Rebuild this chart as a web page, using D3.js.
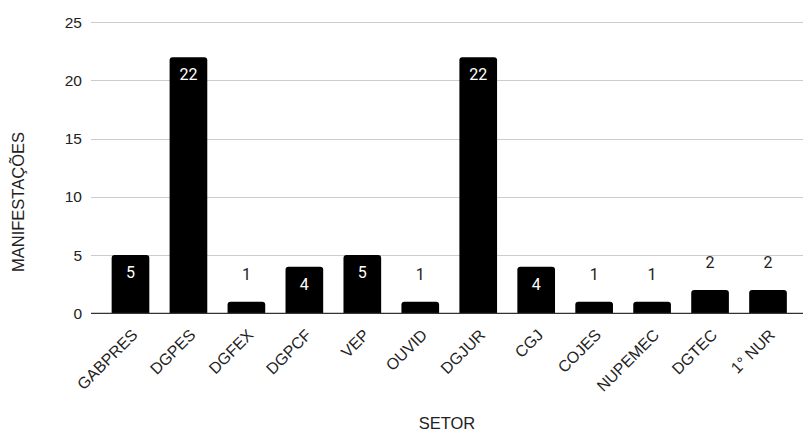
<!DOCTYPE html>
<html>
<head>
<meta charset="utf-8">
<script src="https://cdn.jsdelivr.net/npm/d3@7"></script>
<style>
  html, body { margin: 0; padding: 0; background: #fff; }
  svg { display: block; }
</style>
</head>
<body>
<svg id="chart" width="803" height="430"></svg>
<script>
// Manifestações por setor
const categories = ["GABPRES", "DGPES", "DGFEX", "DGPCF", "VEP", "OUVID", "DGJUR", "CGJ", "COJES", "NUPEMEC", "DGTEC", "1° NUR"];
const values = [5, 22, 1, 4, 5, 1, 22, 4, 1, 1, 2, 2];
const yTicks = [0, 5, 10, 15, 20, 25];
const xTitle = "SETOR";
const yTitle = "MANIFESTAÇÕES";

const svg = d3.select("#chart");
const plot = { left: 91, right: 803, top: 22.3, bottom: 313.3 };
const axisFont = "'Liberation Sans', Arial, sans-serif";
const labelFont = "Roboto, 'Liberation Sans', Arial, sans-serif";

const x = d3.scaleBand()
  .domain(categories)
  .range([101.5, 797])
  .paddingInner(0.35)
  .paddingOuter(0.175);

const y = d3.scaleLinear()
  .domain([0, 25])
  .range([plot.bottom, plot.top]);

// gridlines
svg.append("g")
  .selectAll("line")
  .data(yTicks.filter(t => t !== 0))
  .join("line")
  .attr("x1", plot.left).attr("x2", plot.right)
  .attr("y1", d => Math.round(y(d)) + 0.5).attr("y2", d => Math.round(y(d)) + 0.5)
  .attr("stroke", "#cccccc").attr("stroke-width", 1);

// y tick labels
const yAxis = d3.axisLeft(y).tickValues(yTicks).tickSize(0).tickPadding(0);
const yg = svg.append("g").attr("transform", `translate(82,0)`).call(yAxis);
yg.select(".domain").remove();
yg.selectAll("text")
  .attr("font-family", axisFont).attr("font-size", 15.5).attr("fill", "#222");

// bars with rounded tops
const r = 3;
function barPath(x0, w, yTop, yBot) {
  const rr = Math.min(r, (yBot - yTop));
  return `M${x0},${yBot} V${yTop + rr} Q${x0},${yTop} ${x0 + rr},${yTop} H${x0 + w - rr} Q${x0 + w},${yTop} ${x0 + w},${yTop + rr} V${yBot} Z`;
}
const rows = categories.map((c, i) => ({ c, v: values[i] }));
svg.append("g")
  .selectAll("path")
  .data(rows)
  .join("path")
  .attr("d", d => barPath(x(d.c), x.bandwidth(), y(d.v), y(0)))
  .attr("fill", "#000");

// value labels: inside (white) when the bar is tall enough, above otherwise
const inside = d => (y(0) - y(d.v)) > 30;
svg.append("g")
  .selectAll("text")
  .data(rows)
  .join("text")
  .attr("x", d => x(d.c) + x.bandwidth() / 2)
  .attr("y", d => inside(d) ? y(d.v) + 23 : y(d.v) - 22)
  .attr("text-anchor", "middle")
  .attr("font-family", labelFont).attr("font-size", 16)
  .attr("fill", d => inside(d) ? "#fff" : "#222")
  .text(d => d.v);

// baseline
svg.append("line")
  .attr("x1", plot.left).attr("x2", plot.right)
  .attr("y1", y(0)).attr("y2", y(0))
  .attr("stroke", "#333").attr("stroke-width", 1.2);

// x tick labels (rotated)
svg.append("g")
  .selectAll("text")
  .data(categories)
  .join("text")
  .attr("transform", d => `translate(${x(d) + x.bandwidth() / 2 + 8},336) rotate(-45)`)
  .attr("text-anchor", "end")
  .attr("font-family", axisFont).attr("font-size", 16).attr("fill", "#222")
  .text(d => d);

// axis titles
svg.append("text")
  .attr("x", (plot.left + plot.right) / 2).attr("y", 428.5)
  .attr("text-anchor", "middle")
  .attr("font-family", axisFont).attr("font-size", 16.5).attr("fill", "#222")
  .text(xTitle);

svg.append("text")
  .attr("transform", `translate(24,202) rotate(-90)`)
  .attr("text-anchor", "middle")
  .attr("font-family", axisFont).attr("font-size", 16.5).attr("fill", "#222")
  .text(yTitle);
</script>
</body>
</html>
